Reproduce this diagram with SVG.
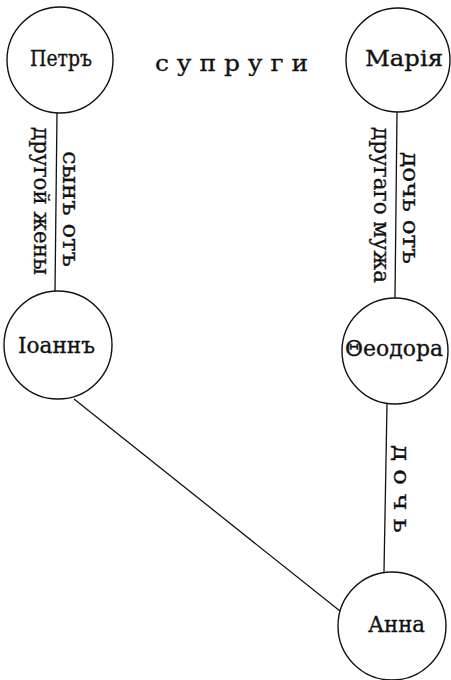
<svg xmlns="http://www.w3.org/2000/svg" width="451" height="680" viewBox="0 0 451 680">
<style>
.node{fill:none;stroke:#111;stroke-width:1.4}
.edge{stroke:#111;stroke-width:1.3;fill:none}
.name{font-family:"DejaVu Serif","Liberation Serif",serif;font-size:23px;fill:#111;stroke:#111;stroke-width:0.35}
.lbl{font-family:"DejaVu Serif","Liberation Serif",serif;font-size:22px;fill:#111;stroke:#111;stroke-width:0.3}
</style>
<rect width="451" height="680" fill="#fff"/>
<g id="connectors">
<line class="edge" x1="57" y1="113" x2="55" y2="291"/>
<line class="edge" x1="397" y1="112" x2="395" y2="298"/>
<line class="edge" x1="387" y1="404" x2="384" y2="572"/>
<line class="edge" x1="74" y1="399" x2="340" y2="611"/>
</g>
<g id="petr">
<circle class="node" cx="60" cy="60" r="53"/>
<text class="name" x="30" y="66" textLength="62" lengthAdjust="spacingAndGlyphs">Петръ</text>
</g>
<g id="maria">
<circle class="node" cx="398" cy="60" r="52"/>
<text class="name" x="365" y="66" textLength="78" lengthAdjust="spacingAndGlyphs">Марія</text>
</g>
<g id="ioann">
<circle class="node" cx="58" cy="345" r="54"/>
<text class="name" x="18" y="353" textLength="77" lengthAdjust="spacingAndGlyphs">Іоаннъ</text>
</g>
<g id="feodora">
<circle class="node" cx="395" cy="351" r="53"/>
<text class="name" x="345" y="356" textLength="98" lengthAdjust="spacingAndGlyphs">Θеодора</text>
</g>
<g id="anna">
<circle class="node" cx="392" cy="626" r="54"/>
<text class="name" x="368" y="632" textLength="57" lengthAdjust="spacingAndGlyphs">Анна</text>
</g>
<g id="labels">
<text class="lbl" x="155" y="71" textLength="153" lengthAdjust="spacingAndGlyphs">с у п р у г и</text>
<text class="lbl" transform="translate(63,151) rotate(90)" textLength="116" lengthAdjust="spacingAndGlyphs">сынъ отъ</text>
<text class="lbl" transform="translate(34,127) rotate(90)" textLength="148" lengthAdjust="spacingAndGlyphs">другой жены</text>
<text class="lbl" transform="translate(403,152) rotate(90)" textLength="112" lengthAdjust="spacingAndGlyphs">дочь отъ</text>
<text class="lbl" transform="translate(374,127) rotate(90)" textLength="156" lengthAdjust="spacingAndGlyphs">другаго мужа</text>
<text class="lbl" transform="translate(394,445) rotate(90)" textLength="88" lengthAdjust="spacingAndGlyphs">д о ч ь</text>
</g>
</svg>
